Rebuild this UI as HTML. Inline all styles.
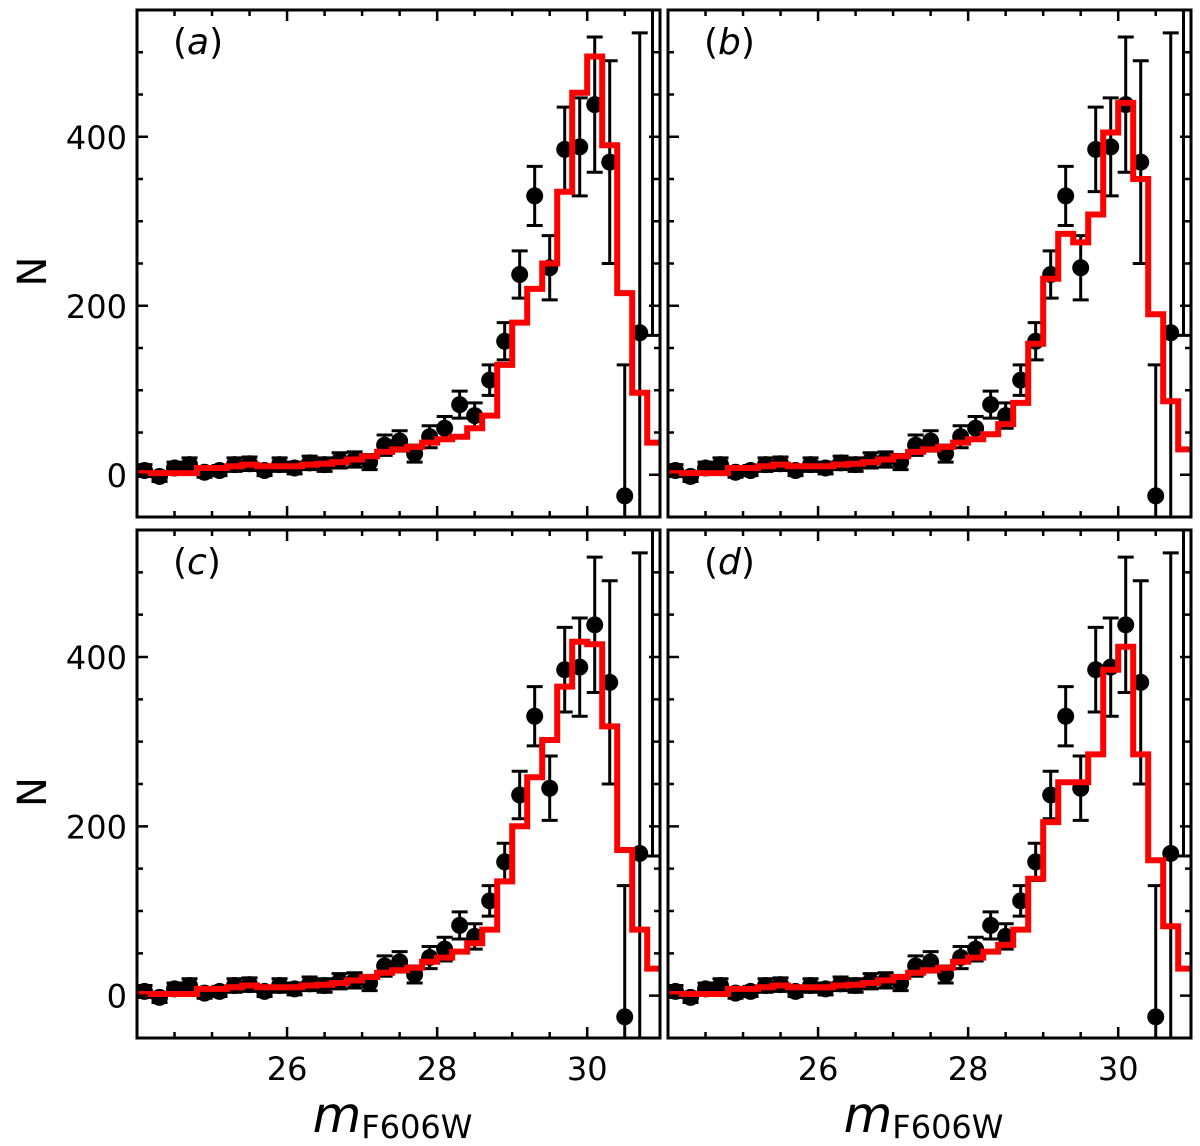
<!DOCTYPE html>
<html><head><meta charset="utf-8">
<style>
body{margin:0;background:#fff;}
svg{display:block;font-family:"DejaVu Sans","Liberation Sans",sans-serif;}
</style></head>
<body>
<svg id="fig" width="1200" height="1146" viewBox="0 0 1200 1146" xmlns="http://www.w3.org/2000/svg"></svg>
<script>
const mags = [24.1,24.3,24.5,24.7,24.9,25.1,25.3,25.5,25.7,25.9,26.1,26.3,26.5,26.7,26.9,27.1,27.3,27.5,27.7,27.9,28.1,28.3,28.5,28.7,28.9,29.1,29.3,29.5,29.7,29.9,30.1,30.3,30.5,30.7];
const counts = [5,-2,8,12,3,5,12,13,5,12,8,14,12,17,18,15,35,40,25,45,55,83,70,112,158,237,330,245,385,388,438,370,-25,168];
const errors = [7,6,7,8,6,6,8,8,6,8,7,8,8,9,9,9,12,12,10,13,14,16,15,18,22,28,35,38,50,58,80,120,155,355];
const modelA = [2,2,2,2,8,8,10,12,10,10,10,12,13,15,18,22,27,30,33,38,42,45,55,70,130,180,220,250,335,452,495,390,215,97,38];
const modelB = [2,2,2,2,8,8,10,12,10,10,10,12,13,15,18,22,27,30,33,38,42,48,60,85,155,232,285,275,308,405,440,350,190,87,30];
const modelC = [2,2,2,2,8,8,10,12,10,10,10,12,13,15,18,22,27,30,33,40,45,52,62,78,135,200,258,302,365,418,415,318,172,78,32];
const modelD = [2,2,2,2,8,8,10,12,10,10,10,12,13,15,18,22,27,30,33,40,45,52,60,78,138,205,252,252,285,385,412,285,160,82,32];
const modelCenters = [24.1,24.3,24.5,24.7,24.9,25.1,25.3,25.5,25.7,25.9,26.1,26.3,26.5,26.7,26.9,27.1,27.3,27.5,27.7,27.9,28.1,28.3,28.5,28.7,28.9,29.1,29.3,29.5,29.7,29.9,30.1,30.3,30.5,30.7,30.9];
const xTicks = [26,28,30];
const yTicks = [0,200,400];
const panelLabels = ["a","b","c","d"];

const NS="http://www.w3.org/2000/svg";
const svg=document.getElementById('fig');
function mk(tag,attrs,parent){const e=document.createElementNS(NS,tag);for(const k in attrs)e.setAttribute(k,attrs[k]);(parent||svg).appendChild(e);return e;}

const XMIN=24,XMAX=30.97,YMIN=-50,YMAX=550;
const panels=[
 {x0:137,x1:660,y0:10,y1:517,model:modelA,label:panelLabels[0],left:true,bottom:false},
 {x0:668,x1:1191,y0:10,y1:517,model:modelB,label:panelLabels[1],left:false,bottom:false},
 {x0:137,x1:660,y0:530,y1:1038,model:modelC,label:panelLabels[2],left:true,bottom:true},
 {x0:668,x1:1191,y0:530,y1:1038,model:modelD,label:panelLabels[3],left:false,bottom:true}
];

panels.forEach((p,pi)=>{
  const sx=v=>p.x0+(v-XMIN)/(XMAX-XMIN)*(p.x1-p.x0);
  const sy=v=>p.y1-(v-YMIN)/(YMAX-YMIN)*(p.y1-p.y0);
  const g=mk('g',{});
  
  
  const cid='clip'+pi;
  const cp=mk('clipPath',{id:cid},g);
  mk('rect',{x:p.x0,y:p.y0,width:p.x1-p.x0,height:p.y1-p.y0},cp);
  const plot=mk('g',{'clip-path':'url(#'+cid+')'},g);
  let d='';
  p.model.forEach((v,i)=>{
    const c=modelCenters[i];
    const xa=sx(c-0.1),xb=sx(i===p.model.length-1?c+0.3:c+0.1),y=sy(v);
    d+=(i===0?'M':'L')+xa.toFixed(1)+','+y.toFixed(1)+'L'+xb.toFixed(1)+','+y.toFixed(1);
  });
  const eg=mk('g',{},plot);
  
  
  mags.forEach((m,i)=>{
    const x=sx(m),lo=sy(counts[i]-errors[i]),hi=sy(counts[i]+errors[i]);
    const eb=mk('path',{d:`M${x},${lo}L${x},${hi}M${x-8},${lo}L${x+8},${lo}M${x-8},${hi}L${x+8},${hi}`,stroke:'#000','stroke-width':3,fill:'none'},eg);
    
    
    const pt=mk('circle',{cx:x,cy:sy(counts[i]),r:8.5,fill:'#000'},eg);
    
    
  });
  const xr=sx(30.87);
  const fe=mk('path',{d:`M${xr},${sy(560)}L${xr},${sy(165)}M${sx(30.7)},${sy(165)}L${sx(31.1)},${sy(165)}`,stroke:'#000','stroke-width':3,fill:'none'},plot);
  
  
  const line=mk('path',{d:d,stroke:'#ff0000','stroke-width':6,fill:'none','stroke-linejoin':'miter'},plot);
  
  
  const fr=mk('rect',{x:p.x0,y:p.y0,width:p.x1-p.x0,height:p.y1-p.y0,fill:'none',stroke:'#000','stroke-width':3},g);
  
  
  let td='';
  for(let v=24.5;v<=30.9;v+=0.5){
    const x=sx(v),major=Math.abs(v-Math.round(v/2)*2)<1e-6,L=major?11:6;
    td+=`M${x},${p.y1}L${x},${p.y1-L}M${x},${p.y0}L${x},${p.y0+L}`;
  }
  for(let v=0;v<550;v+=50){
    const y=sy(v),major=v%200===0,L=major?11:6;
    td+=`M${p.x0},${y}L${p.x0+L},${y}M${p.x1},${y}L${p.x1-L},${y}`;
  }
  const tk=mk('path',{d:td,stroke:'#000','stroke-width':2.5,fill:'none'},g);
  
  
  if(p.left){
    yTicks.forEach(v=>{
      const t=mk('text',{x:p.x0-10,y:sy(v)+12,'font-size':32,'text-anchor':'end',fill:'#000'},g);
      t.textContent=v;
      
      
    });
    const yl=mk('text',{x:0,y:0,'font-size':40,'text-anchor':'middle',fill:'#000',transform:`translate(46,${(p.y0+p.y1)/2+8}) rotate(-90)`},g);
    yl.textContent='N';
    
    
  }
  if(p.bottom){
    xTicks.forEach(v=>{
      const t=mk('text',{x:sx(v),y:p.y1+42,'font-size':32,'text-anchor':'middle',fill:'#000'},g);
      t.textContent=v;
      
      
    });
    const xl=mk('text',{x:(p.x0+p.x1)/2-6,y:p.y1+94,'text-anchor':'middle',fill:'#000'},g);
    
    
    const s1=mk('tspan',{'font-size':50,'font-style':'italic'},xl);s1.textContent='m';
    const s2=mk('tspan',{'font-size':32,dy:6},xl);s2.textContent='F606W';
  }
  const lb=mk('text',{x:p.x0+36,y:p.y0+44,'font-size':36,fill:'#000'},g);
  
  
  const a1=mk('tspan',{},lb);a1.textContent='(';
  const a2=mk('tspan',{'font-style':'italic'},lb);a2.textContent=p.label;
  const a3=mk('tspan',{},lb);a3.textContent=')';
});
</script>
</body></html>
